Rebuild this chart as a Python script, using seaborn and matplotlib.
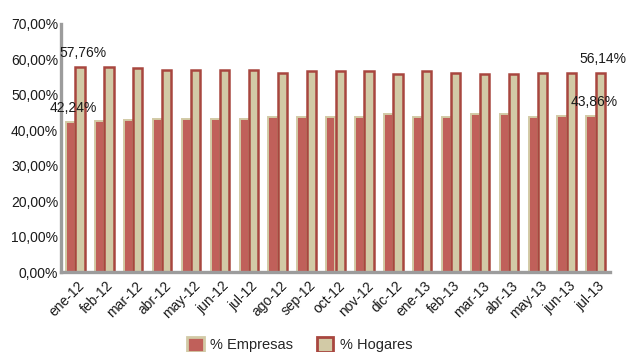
import matplotlib
matplotlib.use("Agg")
import matplotlib.pyplot as plt
import matplotlib.transforms as mtransforms
import seaborn as sns
import pandas as pd
from matplotlib.patches import Patch
from matplotlib.ticker import FixedLocator, FuncFormatter

# Monthly penetration (%) for companies and households
meses = ["ene-12", "feb-12", "mar-12", "abr-12", "may-12", "jun-12", "jul-12",
         "ago-12", "sep-12", "oct-12", "nov-12", "dic-12", "ene-13", "feb-13",
         "mar-13", "abr-13", "may-13", "jun-13", "jul-13"]
empresas = [42.24, 42.50, 42.86, 43.20, 43.20, 43.20, 43.20, 43.70, 43.70, 43.70,
            43.70, 44.45, 43.60, 43.70, 44.45, 44.45, 43.70, 43.98, 43.86]
hogares = [57.76, 57.79, 57.50, 56.86, 56.86, 56.86, 56.86, 56.10, 56.58, 56.58,
           56.58, 55.80, 56.58, 56.10, 55.80, 55.80, 56.10, 56.10, 56.14]
series = ["% Empresas", "% Hogares"]

RED = "#C0605A"
DARK_RED = "#A8463F"
TAN = "#D2CAA6"
GREY = "#9C9C9C"

df = pd.DataFrame({
    "mes": meses * 2,
    "valor": empresas + hogares,
    "serie": [series[0]] * len(meses) + [series[1]] * len(meses),
})

sns.set_theme(style="white")
plt.rcParams["font.family"] = ["Liberation Sans", "DejaVu Sans"]

fig = plt.figure(figsize=(6.26, 3.52), dpi=100)
ax = fig.add_axes([61 / 626, 1 - 272 / 352, 549 / 626, (272 - 23.6) / 352])

sns.barplot(data=df, x="mes", y="valor", hue="serie", order=meses,
            hue_order=series, palette=[RED, TAN], width=0.64,
            saturation=1, legend=False, ax=ax)

# Outline styles for each series
for cont, ec, lw in zip(ax.containers, [TAN, DARK_RED], [1.4, 1.8]):
    for bar in cont:
        bar.set_edgecolor(ec)
        bar.set_linewidth(lw)

ax.set_ylim(0, 70)
ax.set_xlim(-0.5, len(meses) - 0.5)
ax.set_yticks(range(0, 71, 10))
ax.yaxis.set_major_formatter(FuncFormatter(lambda v, p: f"{v:.2f}".replace(".", ",") + "%"))
ax.set_xlabel("")
ax.set_ylabel("")

for side in ["top", "right"]:
    ax.spines[side].set_visible(False)
for side in ["left", "bottom"]:
    ax.spines[side].set_color(GREY)
    ax.spines[side].set_linewidth(2.4)

ax.tick_params(axis="y", labelsize=10, labelcolor="#1a1a1a", length=0, pad=2)
ax.tick_params(axis="x", which="major", labelsize=10, labelcolor="#1a1a1a",
               length=0, pad=4)
ax.xaxis.set_minor_locator(FixedLocator([i + 0.5 for i in range(-1, len(meses))]))
ax.tick_params(axis="x", which="minor", length=3, width=1, color=GREY,
               direction="out")
shift = mtransforms.ScaledTranslation(7 / 100, -6 / 100, fig.dpi_scale_trans)
for lbl in ax.get_xticklabels():
    lbl.set_rotation(45)
    lbl.set_ha("right")
    lbl.set_rotation_mode("anchor")
    lbl.set_va("center")
    lbl.set_transform(lbl.get_transform() + shift)

# Value labels at the first and last month
def fmt(v):
    return f"{v:.2f}".replace(".", ",") + "%"

for cont, vals in zip(ax.containers, [empresas, hogares]):
    for idx in (0, len(vals) - 1):
        bar = cont[idx]
        cx = bar.get_x() + bar.get_width() / 2
        ax.annotate(fmt(vals[idx]), (cx, vals[idx]), xytext=(2, 10),
                    textcoords="offset points", ha="center", va="center",
                    fontsize=10, color="#1a1a1a", annotation_clip=False)

handles = [Patch(facecolor=RED, edgecolor=TAN, linewidth=2, label=series[0]),
           Patch(facecolor=TAN, edgecolor=DARK_RED, linewidth=2, label=series[1])]
fig.legend(handles=handles, loc="upper left",
           bbox_to_anchor=(184 / 626, 1 - 334 / 352),
           ncol=2, frameon=False, fontsize=10.5, handlelength=1.15,
           handleheight=1.2, handletextpad=0.45, columnspacing=1.6,
           borderaxespad=0, borderpad=0.2)

fig.savefig("out.png", dpi=100)
